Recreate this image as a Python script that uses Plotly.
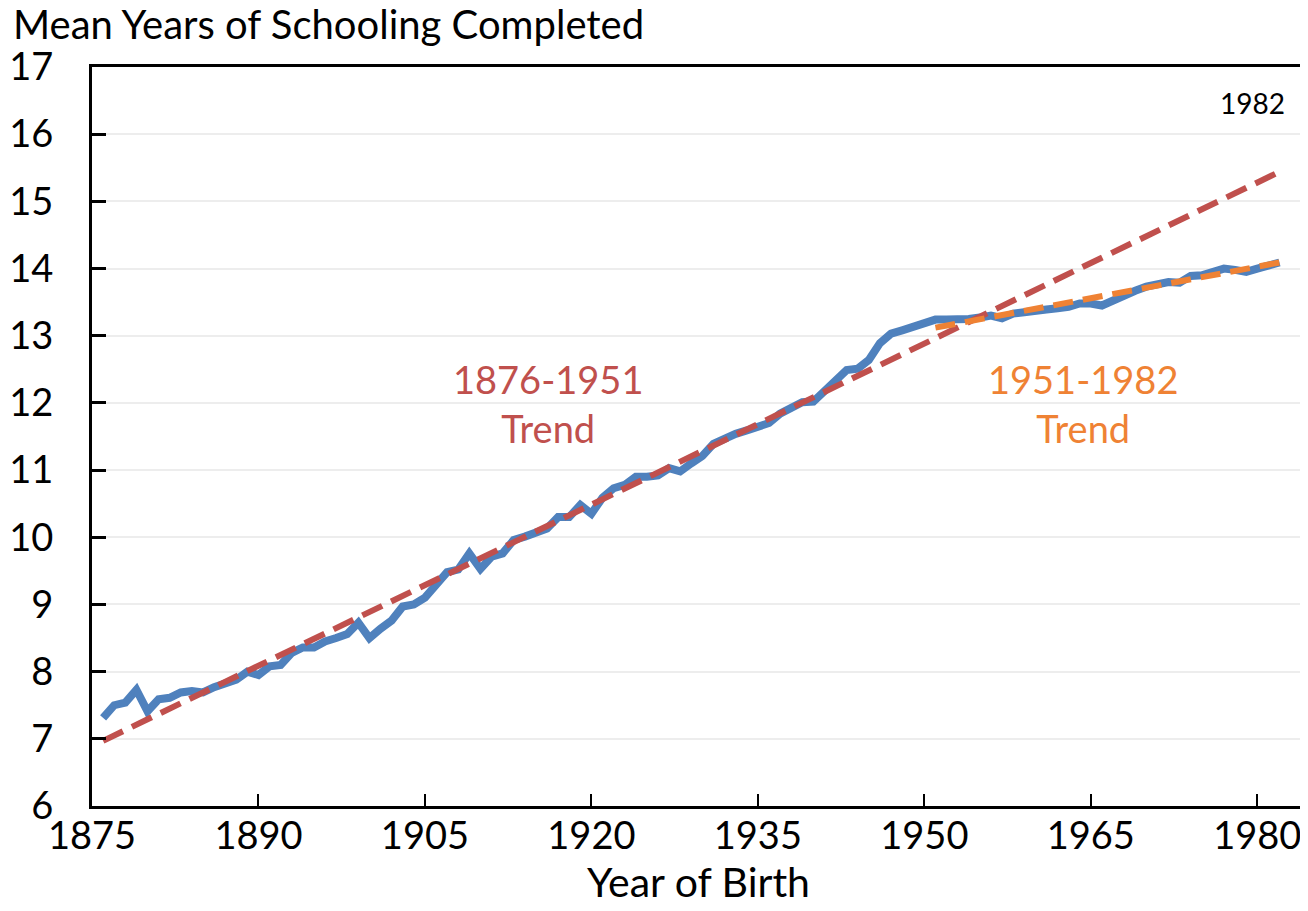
import plotly.graph_objects as go

years = list(range(1876, 1983))
schooling = [
    7.31, 7.50, 7.54, 7.73, 7.41, 7.59, 7.61, 7.69, 7.71, 7.69,
    7.77, 7.82, 7.88, 8.00, 7.95, 8.08, 8.10, 8.28, 8.36, 8.36,
    8.45, 8.50, 8.56, 8.73, 8.50, 8.64, 8.76, 8.97, 9.00, 9.10,
    9.28, 9.48, 9.52, 9.76, 9.53, 9.71, 9.76, 9.96, 10.01, 10.07,
    10.13, 10.30, 10.30, 10.48, 10.35, 10.59, 10.73, 10.78, 10.90, 10.90,
    10.92, 11.03, 10.98, 11.10, 11.21, 11.39, 11.47, 11.54, 11.59, 11.64,
    11.70, 11.84, 11.93, 12.01, 12.02, 12.17, 12.32, 12.49, 12.51, 12.64,
    12.89, 13.03, 13.08, 13.13, 13.17, 13.24, 13.24, 13.24, 13.25, 13.27,
    13.30, 13.26, 13.33, 13.35, 13.36, 13.39, 13.41, 13.43, 13.48, 13.48,
    13.45, 13.53, 13.60, 13.67, 13.73, 13.77, 13.80, 13.79, 13.89, 13.90,
    13.95, 14.00, 13.98, 13.95, 14.00, 14.06, 14.09,
]
# Trend lines (endpoints)
trend1_years = [1876, 1982]
trend1_values = [6.97, 15.44]
trend2_years = [1951, 1982]
trend2_values = [13.12, 14.09]

x_ticks = [1875, 1890, 1905, 1920, 1935, 1950, 1965, 1980]
y_ticks = [6, 7, 8, 9, 10, 11, 12, 13, 14, 15, 16, 17]

FONT = "Lato"
BLUE = "#4F81BD"
RED = "#C0504D"
ORANGE = "#EF8234"

fig = go.Figure()
fig.add_trace(go.Scatter(x=years, y=schooling, mode="lines",
                         line=dict(color=BLUE, width=8), showlegend=False,
                         hoverinfo="skip"))
fig.add_trace(go.Scatter(x=trend1_years, y=trend1_values, mode="lines",
                         line=dict(color=RED, width=6, dash="22px,10px"),
                         showlegend=False, hoverinfo="skip"))
fig.add_trace(go.Scatter(x=trend2_years, y=trend2_values, mode="lines",
                         line=dict(color=ORANGE, width=6, dash="20px,10px"),
                         showlegend=False, hoverinfo="skip"))

fig.add_annotation(x=1916.1, y=11.99, xref="x", yref="y",
                   text="1876-1951<br>Trend", showarrow=False,
                   font=dict(family=FONT, size=38, color=RED),
                   align="center", yanchor="middle")
fig.add_annotation(x=1964.3, y=11.99, xref="x", yref="y",
                   text="1951-1982<br>Trend", showarrow=False,
                   font=dict(family=FONT, size=38, color=ORANGE),
                   align="center", yanchor="middle")
fig.add_annotation(x=1979.6, y=16.46, xref="x", yref="y",
                   text="1982", showarrow=False,
                   font=dict(family=FONT, size=28, color="black"))
fig.add_annotation(x=(12 - 92) / 1213, y=1 + (67 - 24) / 739,
                   xref="paper", yref="paper", xanchor="left",
                   yanchor="middle", showarrow=False, borderpad=0,
                   text="Mean Years of Schooling Completed",
                   font=dict(family=FONT, size=40, color="black"))

# The page body adds an 8px margin, so the figure is sized to fit the window.
fig.update_layout(
    width=1300, height=903,
    margin=dict(l=84, r=3, t=59, b=105),
    paper_bgcolor="white", plot_bgcolor="white",
    font=dict(family=FONT, size=38, color="black"),
    xaxis=dict(range=[1875, 1984.3], tickvals=x_ticks,
               ticktext=[str(t) for t in x_ticks],
               showgrid=False, zeroline=False, automargin=False,
               showline=True, linecolor="black", linewidth=3, mirror=True,
               ticks="inside", ticklen=12, tickwidth=2, tickcolor="black",
               ticklabelstandoff=-6,
               tickfont=dict(family=FONT, size=38),
               title=dict(text="Year of Birth", standoff=6,
                          font=dict(family=FONT, size=41))),
    yaxis=dict(range=[6, 17], tickvals=y_ticks,
               showgrid=True, gridcolor="#EDEDED", gridwidth=1.5,
               zeroline=False, automargin=False,
               showline=True, linecolor="black", linewidth=3,
               ticks="inside", ticklen=14, tickwidth=3, tickcolor="black",
               ticklabelstandoff=28,
               tickfont=dict(family=FONT, size=38)),
)

fig.write_html("out.html")
